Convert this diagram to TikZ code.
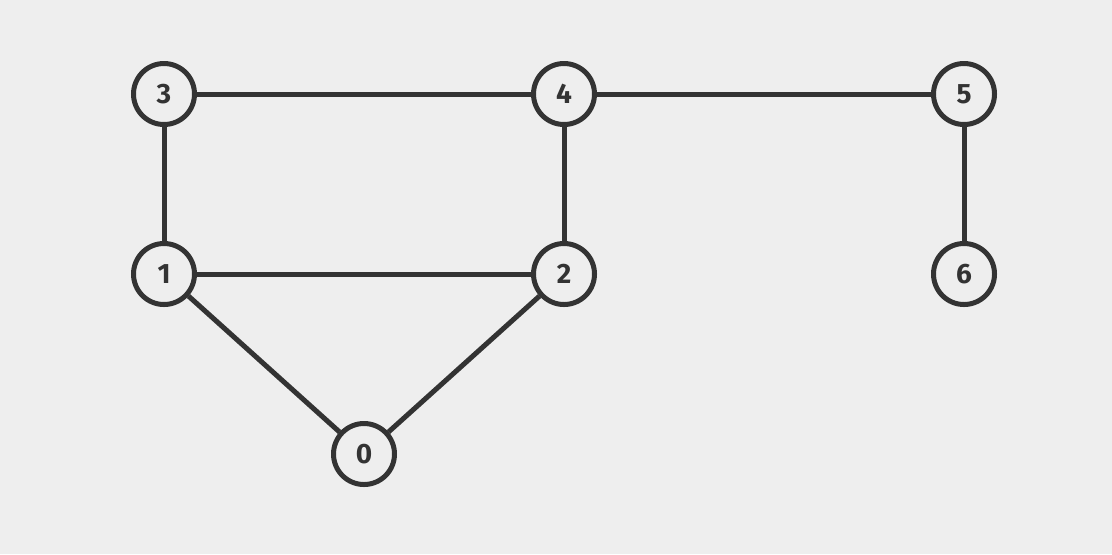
\documentclass[tikz,border=0pt]{standalone}
\usepackage{fontspec}
\setmainfont{Fira Sans}
\usetikzlibrary{positioning}
\definecolor{bgclr}{HTML}{EEEEEE}
\definecolor{edgeclr}{HTML}{333333}
\tikzset{
  vert/.style = {circle, draw=edgeclr, fill=bgclr, line width=2.5pt, minimum size=30.5pt,
                 inner sep=0pt, font=\fontsize{14}{14}\selectfont\bfseries, text=edgeclr},
  link/.style = {draw=edgeclr, line width=2.5pt},
}
\begin{document}
\begin{tikzpicture}[node distance=90pt and 200pt, on grid]

\fill[bgclr] (0,0) rectangle (556pt,-277pt);
\useasboundingbox (0,0) rectangle (556pt,-277pt);

%% top row
\node[vert] (v3) at (82pt,-47pt) {3};
\node[vert, right=of v3] (v4) {4};
\node[vert, right=of v4] (v5) {5};

%% middle row
\node[vert, below=of v3] (v1) {1};
\node[vert, below=of v4] (v2) {2};
\node[vert, below=of v5] (v6) {6};

%% bottom
\node[vert, below=90pt of v1, xshift=100pt] (v0) {0};

%% edges
\draw[link] (v3) -- (v4);
\draw[link] (v4) -- (v5);
\draw[link] (v3) -- (v1);
\draw[link] (v4) -- (v2);
\draw[link] (v5) -- (v6);
\draw[link] (v1) -- (v2);
\draw[link] (v1) -- (v0);
\draw[link] (v2) -- (v0);

\end{tikzpicture}
\end{document}
